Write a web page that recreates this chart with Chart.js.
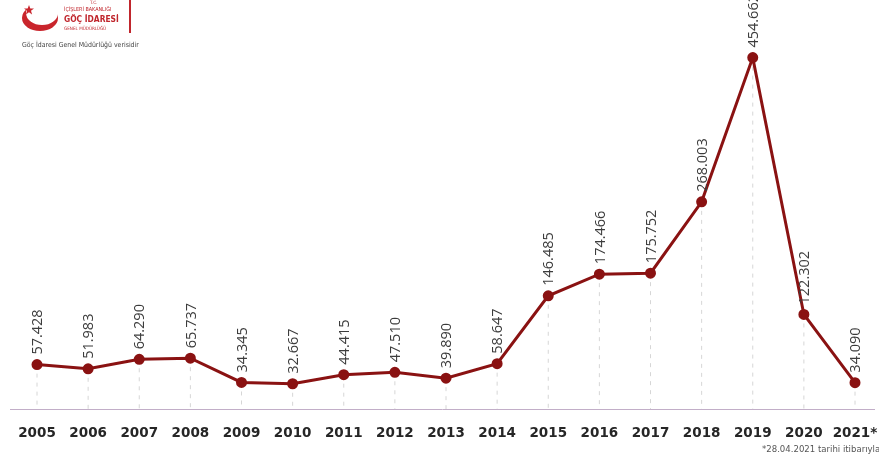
<!DOCTYPE html>
<html>
<head>
<meta charset="utf-8">
<script src="https://cdn.jsdelivr.net/npm/chart.js@4"></script>
<style>
  html, body { margin: 0; padding: 0; background: #fff; }
  #wrap { position: relative; width: 879px; height: 464px; overflow: hidden; }
  #logo { position: absolute; left: 20px; top: 2px; }
  .lt { position: absolute; font-family: "DejaVu Sans Condensed", "Liberation Sans", sans-serif; color: #c0262d; white-space: nowrap; }
  #source { position: absolute; left: 22px; top: 41px; font-family: "DejaVu Sans Condensed", sans-serif; font-size: 6.9px; color: #444; white-space: nowrap; }
  #note { position: absolute; left: 762px; top: 443px; font-family: "DejaVu Sans Condensed", sans-serif; font-size: 9.5px; color: #555; white-space: nowrap; }
  #bar { position: absolute; left: 129px; top: 0; width: 2px; height: 33px; background: #c0262d; }
</style>
</head>
<body>
<div id="wrap">
  <canvas id="migrantChart" width="879" height="464"></canvas>
  <svg id="logo" width="44" height="32" viewBox="0 0 44 32">
    <defs>
      <mask id="cut">
        <rect x="0" y="0" width="44" height="32" fill="#fff"/>
        <ellipse cx="22" cy="11" rx="16" ry="12" fill="#000"/>
      </mask>
    </defs>
    <ellipse cx="20" cy="16" rx="18" ry="13" fill="#c9252c" mask="url(#cut)"/>
    <polygon points="9,3 10.3,6.6 14,6.6 11,8.8 12.1,12.4 9,10.2 5.9,12.4 7,8.8 4,6.6 7.7,6.6" fill="#c9252c"/>
  </svg>
  <div class="lt" style="left:90px;top:0px;font-size:4.5px;">T.C.</div>
  <div class="lt" style="left:64px;top:6px;font-size:5.4px;">İÇİŞLERİ BAKANLIĞI</div>
  <div class="lt" style="left:64px;top:14px;font-size:8.4px;font-weight:bold;">GÖÇ İDARESİ</div>
  <div class="lt" style="left:64px;top:26px;font-size:4.6px;">GENEL MÜDÜRLÜĞÜ</div>
  <div id="bar"></div>
  <div id="source">Göç İdaresi Genel Müdürlüğü verisidir</div>
  <div id="note">*28.04.2021 tarihi itibarıyla</div>
</div>
<script>
const years = ['2005', '2006', '2007', '2008', '2009', '2010', '2011', '2012', '2013',
               '2014', '2015', '2016', '2017', '2018', '2019', '2020', '2021*'];
const migrants = [57428, 51983, 64290, 65737, 34345, 32667, 44415, 47510, 39890,
                  58647, 146485, 174466, 175752, 268003, 454662, 122302, 34090];

// Turkish style thousands separator
function formatValue(v) {
    return (v / 1000).toFixed(3);
}

// dashed drop lines, baseline and rotated value labels
const decorations = {
    id: 'decorations',
    beforeDatasetsDraw(chart) {
        const c = chart.ctx;
        const area = chart.chartArea;
        const meta = chart.getDatasetMeta(0);
        c.save();
        c.strokeStyle = '#d6d6d6';
        c.lineWidth = 1;
        c.setLineDash([4, 5]);
        meta.data.forEach(pt => {
            c.beginPath();
            c.moveTo(pt.x, pt.y);
            c.lineTo(pt.x, area.bottom);
            c.stroke();
        });
        c.setLineDash([]);
        c.strokeStyle = '#c2aec8';
        c.lineWidth = 1;
        c.beginPath();
        c.moveTo(area.left - 27, area.bottom + 0.5);
        c.lineTo(area.right + 20, area.bottom + 0.5);
        c.stroke();
        c.restore();
    },
    afterDatasetsDraw(chart) {
        const c = chart.ctx;
        const meta = chart.getDatasetMeta(0);
        c.save();
        c.fillStyle = '#3c3c3c';
        c.font = '14.5px "Open Sans", sans-serif';
        c.textAlign = 'left';
        c.textBaseline = 'middle';
        meta.data.forEach((pt, i) => {
            c.save();
            c.translate(pt.x + 1, pt.y - 10);
            c.rotate(-Math.PI / 2);
            c.fillText(formatValue(migrants[i]), 0, 0);
            c.restore();
        });
        c.restore();
    }
};

const ctx = document.getElementById('migrantChart').getContext('2d');
const migrantChart = new Chart(ctx, {
    type: 'line',
    data: {
        labels: years,
        datasets: [{
            data: migrants,
            borderColor: '#8a1212',
            backgroundColor: '#8a1212',
            borderWidth: 3,
            pointRadius: 4,
            pointHoverRadius: 4,
            tension: 0
        }]
    },
    options: {
        responsive: false,
        animation: false,
        layout: {
            padding: { left: 37, right: 24, top: 38, bottom: 0 }
        },
        plugins: {
            legend: { display: false },
            tooltip: { enabled: false }
        },
        scales: {
            x: {
                offset: false,
                grid: { display: false },
                border: { display: false },
                ticks: {
                    color: '#262626',
                    font: { family: 'DejaVu Sans', size: 13.5, weight: 'bold' },
                    padding: 8,
                    maxRotation: 0,
                    autoSkip: false
                },
                afterFit(scale) {
                    scale.height = 55;
                    scale.paddingLeft = 0;
                    scale.paddingRight = 0;
                }
            },
            y: {
                display: false,
                min: 0,
                max: 480000
            }
        }
    },
    plugins: [decorations]
});
</script>
</body>
</html>
